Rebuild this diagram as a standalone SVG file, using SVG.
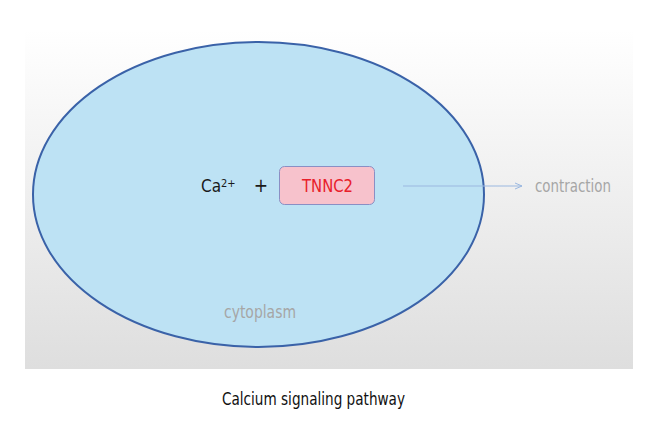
<svg xmlns="http://www.w3.org/2000/svg" width="660" height="440" viewBox="0 0 660 440">
<defs>
<linearGradient id="bg" x1="0" y1="0" x2="0" y2="1">
<stop offset="0" stop-color="#ffffff"/>
<stop offset="1" stop-color="#dedede"/>
</linearGradient>
<marker id="arr" markerWidth="10" markerHeight="10" refX="8" refY="4" orient="auto" markerUnits="userSpaceOnUse">
<path d="M1,1 L8,4 L1,7" fill="none" stroke="#9bb8e0" stroke-width="1"/>
</marker>
<style>
text{font-family:"Liberation Sans Narrow","DejaVu Sans Condensed","Liberation Sans",sans-serif;}
.lbl{font-size:17px;fill:#a6a6a6;}
</style>
</defs>
<rect width="660" height="440" fill="#ffffff"/>
<rect x="25" y="30" width="608" height="339" fill="url(#bg)"/>
<g id="cytoplasm">
<ellipse cx="258.5" cy="194.5" rx="225.5" ry="152.5" fill="#bde2f4" stroke="#3a62a8" stroke-width="2"/>
<text class="lbl" x="224" y="318" textLength="72" lengthAdjust="spacingAndGlyphs">cytoplasm</text>
</g>
<g id="ca">
<text x="201" y="192" font-size="17" fill="#1a1a1a">Ca<tspan font-size="11" dy="-5">2+</tspan></text>
</g>
<g id="plus">
<text x="261" y="192" font-size="19" fill="#1a1a1a" text-anchor="middle">+</text>
</g>
<g id="tnnc2">
<rect x="279.5" y="166.5" width="95" height="38" rx="5" fill="#f7c2cc" stroke="#8a8fc4" stroke-width="1"/>
<text x="302" y="192" font-size="18" fill="#e8202a" textLength="51" lengthAdjust="spacingAndGlyphs">TNNC2</text>
</g>
<g id="connectors">
<line x1="403" y1="186" x2="522" y2="186" stroke="#9bb8e0" stroke-width="1" marker-end="url(#arr)"/>
</g>
<g id="contraction">
<text class="lbl" x="535" y="192" textLength="76" lengthAdjust="spacingAndGlyphs">contraction</text>
</g>
<g id="title">
<text x="222" y="405" font-size="18" fill="#111111" textLength="183" lengthAdjust="spacingAndGlyphs">Calcium signaling pathway</text>
</g>
</svg>
